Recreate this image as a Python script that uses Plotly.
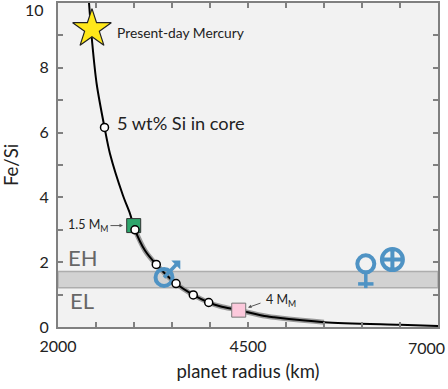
import plotly.graph_objects as go

FONT = "Lato"
curve_radius = [2408, 2451, 2509, 2612, 2684, 2855, 2947, 3013, 3145, 3293, 3553, 3780, 3983, 4132, 4378, 4746, 4842, 5500, 6500, 7000]
curve_fesi = [10, 8.75, 7.5, 6.16, 5.35, 4.06, 3.5, 3.0, 2.36, 1.93, 1.34, 0.99, 0.756, 0.64, 0.52, 0.33, 0.30, 0.15, 0.07, 0.03]
halo_radius = [3013, 3145, 3293, 3553, 3780, 3983, 4132, 4378, 4746, 5500]
halo_fesi = [3.0, 2.36, 1.93, 1.34, 0.99, 0.756, 0.64, 0.52, 0.33, 0.15]
open_radius = [2612, 3013, 3293, 3553, 3780, 3983]
open_fesi = [6.16, 3.0, 1.93, 1.34, 0.99, 0.756]
mercury = (2447, 9.2)
low_mass = (2996, 3.13)
high_mass = (4378, 0.52)
band_low, band_high = 1.21, 1.71
mars = (3395, 1.53)
mars_tip = (3570, 1.96)
venus = (6050, 1.95)
venus_foot = (6050, 1.2)
earth = (6400, 2.08)
x_ticks = [2000, 2500, 3000, 3500, 4000, 4500, 5000, 5500, 6000, 6500, 7000]
x_labels = ["2000", "", "", "", "", "4500", "", "", "", "", ""]
y_ticks = list(range(0, 11))
y_labels = ["0", "", "2", "", "4", "", "6", "", "8", "", ""]
BLUE = "#4f93c4"

fig = go.Figure()
fig.add_shape(type="rect", x0=2000, x1=7000, y0=band_low, y1=band_high, layer="below",
              fillcolor="#d2d2d2", line=dict(color="#adadad", width=1.5))
fig.add_trace(go.Scatter(x=halo_radius, y=halo_fesi, mode="lines",
                         line=dict(color="#9a9a9a", width=5, shape="spline"), hoverinfo="skip"))
fig.add_trace(go.Scatter(x=curve_radius, y=curve_fesi, mode="lines",
                         line=dict(color="black", width=2, shape="spline", smoothing=0.8), hoverinfo="skip"))
# planets
fig.add_trace(go.Scatter(x=[mars[0], mars_tip[0]], y=[mars[1], mars_tip[1]], mode="lines",
                         line=dict(color=BLUE, width=3.5), hoverinfo="skip"))
fig.add_trace(go.Scatter(x=[mars_tip[0]], y=[mars_tip[1]], mode="markers",
                         marker=dict(symbol="triangle-ne", size=10, color=BLUE), hoverinfo="skip"))
fig.add_trace(go.Scatter(x=[mars[0]], y=[mars[1]], mode="markers",
                         marker=dict(symbol="circle-open", size=17, color=BLUE, line=dict(color=BLUE, width=4)), hoverinfo="skip"))
fig.add_trace(go.Scatter(x=[venus[0], venus_foot[0]], y=[venus[1], venus_foot[1]], mode="lines",
                         line=dict(color=BLUE, width=3.5), hoverinfo="skip"))
fig.add_trace(go.Scatter(x=[venus_foot[0]], y=[venus_foot[1] + 0.13], mode="markers",
                         marker=dict(symbol="line-ew", size=11, color=BLUE, line=dict(color=BLUE, width=3.5)), hoverinfo="skip"))
fig.add_trace(go.Scatter(x=[venus[0]], y=[venus[1]], mode="markers",
                         marker=dict(symbol="circle", size=17, color="#f2f2f2", line=dict(color=BLUE, width=4)), hoverinfo="skip"))
fig.add_trace(go.Scatter(x=[earth[0]], y=[earth[1]], mode="markers",
                         marker=dict(symbol="circle-cross-open", size=21, color=BLUE, line=dict(color=BLUE, width=4)), hoverinfo="skip"))
fig.add_trace(go.Scatter(x=[low_mass[0]], y=[low_mass[1]], mode="markers",
                         marker=dict(symbol="square", size=14, color="#2da66c", line=dict(color="#333", width=1)), hoverinfo="skip"))
fig.add_trace(go.Scatter(x=[high_mass[0]], y=[high_mass[1]], mode="markers",
                         marker=dict(symbol="square", size=14, color="#fcc9dc", line=dict(color="#777", width=1)), hoverinfo="skip"))
fig.add_trace(go.Scatter(x=open_radius, y=open_fesi, mode="markers",
                         marker=dict(symbol="circle", size=8, color="white", line=dict(color="black", width=1.5)), hoverinfo="skip"))
fig.add_trace(go.Scatter(x=[mercury[0]], y=[mercury[1]], mode="markers",
                         marker=dict(symbol="star", size=29, color="#ffe81a", line=dict(color="#222", width=1.2)), hoverinfo="skip"))


def label(x, y, text, size, color="#222"):
    fig.add_annotation(x=x, y=y, text=text, showarrow=False, xanchor="left", yanchor="middle",
                       font=dict(family=FONT, size=size, color=color))


label(2750, 9.1, "Present-day Mercury", 13.8)
label(2750, 6.3, "5 wt% Si in core", 18.2)
label(2100, 2.15, "EH", 22, "#666")
label(2130, 0.82, "EL", 22, "#666")
label(2110, 3.13, "1.5 M<sub>M</sub>", 12.5)
label(4710, 0.83, "4 M<sub>M</sub>", 12.5)
fig.add_annotation(x=2855, y=3.13, ax=-14, ay=0, text="", showarrow=True, arrowhead=2, arrowsize=0.7,
                   arrowwidth=1, arrowcolor="#555")
fig.add_annotation(x=4500, y=0.6, ax=14, ay=-5, text="", showarrow=True, arrowhead=2, arrowsize=0.7,
                   arrowwidth=1, arrowcolor="#555")
fig.add_annotation(x=7000, y=0, text="7000", showarrow=False, xanchor="right", yanchor="top", xshift=9, yshift=-9,
                   font=dict(family=FONT, size=16, color="#222"))
fig.add_annotation(x=2000, y=10, text="10", showarrow=False, xanchor="right", yanchor="top", xshift=-12, yshift=5,
                   font=dict(family=FONT, size=16, color="#222"))

axis = dict(showgrid=False, zeroline=False, showline=True, linecolor="#808080", linewidth=2, mirror="ticks",
            ticks="inside", ticklen=5, tickwidth=1.5, tickcolor="#808080", tickangle=0, ticklabelstandoff=4,
            tickfont=dict(family=FONT, size=16, color="#222"),
            title_font=dict(family=FONT, size=18.5, color="#222"))
fig.update_xaxes(axis, range=[2000, 7000], tickmode="array", tickvals=x_ticks, ticktext=x_labels,
                 title_text="planet radius (km)", title_standoff=11)
fig.update_yaxes(axis, range=[0, 10], tickmode="array", tickvals=y_ticks, ticktext=y_labels,
                 title_text="Fe/Si", title_standoff=16)
fig.update_layout(width=448, height=389, margin=dict(l=58, r=10, t=2.5, b=62, autoexpand=False),
                  showlegend=False, paper_bgcolor="white", plot_bgcolor="#f2f2f2")
fig.write_html("out.html", post_script="document.body.style.margin='0';", config=dict(displayModeBar=False))
